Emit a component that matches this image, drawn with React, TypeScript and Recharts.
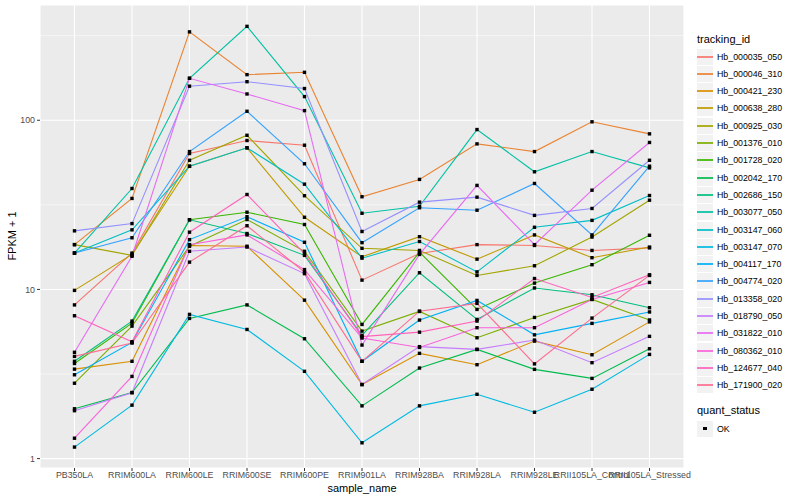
import { CartesianGrid, Line, LineChart, ReferenceLine, XAxis, YAxis } from "recharts";

const sampleNames = [
  "PB350LA",
  "RRIM600LA",
  "RRIM600LE",
  "RRIM600SE",
  "RRIM600PE",
  "RRIM901LA",
  "RRIM928BA",
  "RRIM928LA",
  "RRIM928LE",
  "RRII105LA_Control",
  "RRII105LA_Stressed",
];

const trackingIds = [
  "Hb_000035_050",
  "Hb_000046_310",
  "Hb_000421_230",
  "Hb_000638_280",
  "Hb_000925_030",
  "Hb_001376_010",
  "Hb_001728_020",
  "Hb_002042_170",
  "Hb_002686_150",
  "Hb_003077_050",
  "Hb_003147_060",
  "Hb_003147_070",
  "Hb_004117_170",
  "Hb_004774_020",
  "Hb_013358_020",
  "Hb_018790_050",
  "Hb_031822_010",
  "Hb_080362_010",
  "Hb_124677_040",
  "Hb_171900_020",
];

// ggplot default hue palette, 20 levels
const hueColors = [
  "#F8766D", "#EA8331", "#D89000", "#C09B00", "#A3A500",
  "#7CAE00", "#39B600", "#00BB4E", "#00BF7D", "#00C1A3",
  "#00BFC4", "#00BAE0", "#00B0F6", "#35A2FF", "#9590FF",
  "#C77CFF", "#E76BF3", "#FA62DB", "#FF62BC", "#FF6C91",
];

// FPKM + 1, one value per sample
const hb000035_050 = [8.1, 16.4, 63.6, 75.9, 71.2, 11.35, 16.3, 18.4, 18.2, 17.0, 17.6];
const hb000046_310 = [18.4, 34.5, 333, 186, 192, 35.3, 44.7, 72.5, 65.3, 97.9, 83.1];
const hb000421_230 = [3.38, 3.76, 18.2, 18.0, 8.64, 2.74, 4.19, 3.59, 4.95, 4.11, 6.43];
const hb000638_280 = [9.87, 16.1, 53.5, 68.7, 26.7, 15.6, 20.5, 15.1, 21.0, 15.4, 17.8];
const hb000925_030 = [18.4, 15.9, 58.0, 81.5, 35.8, 17.5, 17.0, 12.1, 13.8, 20.4, 33.7];
const hb001376_010 = [2.79, 6.07, 18.0, 25.9, 16.8, 5.67, 7.41, 5.18, 6.83, 8.73, 6.6];
const hb001728_020 = [3.65, 6.32, 25.8, 28.6, 24.2, 6.21, 16.6, 7.62, 10.9, 14.0, 20.9];
const hb002042_170 = [1.97, 2.46, 6.74, 8.1, 5.11, 2.05, 3.43, 4.42, 3.37, 2.98, 4.46];
const hb002686_150 = [3.76, 6.5, 25.8, 21.4, 15.9, 5.35, 12.55, 6.65, 10.2, 9.3, 7.8];
const hb003077_050 = [16.4, 39.5, 177, 359, 138, 28.2, 31.0, 88.1, 49.6, 65.3, 52.3];
const hb003147_060 = [16.4, 22.5, 53.5, 68.7, 41.9, 15.3, 19.2, 12.7, 23.3, 25.6, 35.9];
const hb003147_070 = [1.17, 2.07, 7.12, 5.8, 3.28, 1.24, 2.05, 2.4, 1.88, 2.57, 4.13];
const hb004117_170 = [3.13, 4.86, 19.7, 26.9, 19.0, 3.76, 6.59, 8.61, 5.39, 6.3, 7.36];
const hb004774_020 = [16.4, 20.2, 65.3, 113, 55.3, 18.9, 30.4, 29.4, 42.3, 21.0, 53.5];
const hb013358_020 = [22.2, 24.5, 159, 169, 154, 22.0, 32.8, 35.1, 27.4, 30.1, 58.0];
const hb018790_050 = [1.92, 2.45, 16.8, 17.8, 12.4, 2.74, 4.59, 4.42, 5.02, 3.69, 5.28];
const hb031822_010 = [4.25, 15.7, 177, 143, 114, 4.69, 16.1, 41.2, 18.4, 38.6, 73.9];
const hb080362_010 = [1.32, 3.06, 18.4, 21.0, 13.1, 5.16, 4.54, 5.94, 5.94, 8.73, 11.0];
const hb124677_040 = [6.99, 4.91, 21.8, 36.4, 16.3, 5.26, 5.59, 6.5, 11.6, 8.97, 12.2];
const hb171900_020 = [4.02, 4.82, 14.5, 23.8, 12.65, 3.76, 7.44, 8.27, 3.63, 6.77, 12.1];

const seriesValues = [
  hb000035_050, hb000046_310, hb000421_230, hb000638_280, hb000925_030,
  hb001376_010, hb001728_020, hb002042_170, hb002686_150, hb003077_050,
  hb003147_060, hb003147_070, hb004117_170, hb004774_020, hb013358_020,
  hb018790_050, hb031822_010, hb080362_010, hb124677_040, hb171900_020,
];

const yTicks = [1, 10, 100];
const yMinorTicks = [3.1623, 31.623, 316.23];

const rows = sampleNames.map((name, i) => {
  const row: Record<string, string | number> = { sample_name: name };
  trackingIds.forEach((id, k) => {
    row[id] = seriesValues[k][i];
  });
  return row;
});

const FONT = '"Liberation Sans", Arial, Helvetica, sans-serif';

const squareDot = (p: any) => {
  const key = `${p.dataKey}-${p.index}`;
  if (p.cx == null || p.cy == null) return <g key={key} />;
  return <rect key={key} x={p.cx - 1.7} y={p.cy - 1.7} width={3.4} height={3.4} fill="#000" />;
};

function LegendPanel() {
  const top = 48;
  const step = 17.3;
  return (
    <>
      <div style={{ position: "absolute", left: 697, top: 33, fontSize: 11, color: "#000" }}>
        tracking_id
      </div>
      {trackingIds.map((id, i) => (
        <div key={id} style={{ position: "absolute", left: 697, top: top + i * step, height: 17, display: "flex", alignItems: "center" }}>
          <div style={{ width: 16, height: 16, background: "#F2F2F2", position: "relative" }}>
            <div style={{ position: "absolute", left: 0, right: 0, top: 7, height: 2, background: hueColors[i], opacity: 0.85 }} />
          </div>
          <span style={{ marginLeft: 4, fontSize: 8.8, color: "#000" }}>{id}</span>
        </div>
      ))}
      <div style={{ position: "absolute", left: 697, top: 404, fontSize: 11, color: "#000" }}>
        quant_status
      </div>
      <div style={{ position: "absolute", left: 697, top: 420, height: 17, display: "flex", alignItems: "center" }}>
        <div style={{ width: 16, height: 16, background: "#F2F2F2", position: "relative" }}>
          <div style={{ position: "absolute", left: 6.2, top: 6.2, width: 3.6, height: 3.6, background: "#000" }} />
        </div>
        <span style={{ marginLeft: 4, fontSize: 8.8, color: "#000" }}>OK</span>
      </div>
    </>
  );
}

export default function App() {
  return (
    <div style={{ position: "absolute", left: 0, top: 0, width: 800, height: 500, background: "#fff", fontFamily: FONT }}>
      <LineChart
        width={800}
        height={500}
        data={rows}
        margin={{ top: 5, right: 116, bottom: 0, left: 0 }}
      >
        <CartesianGrid fill="#EBEBEB" stroke="#FFFFFF" strokeWidth={1.1} />
        {yMinorTicks.map((v) => (
          <ReferenceLine key={v} y={v} stroke="#FFFFFF" strokeWidth={0.55} />
        ))}
        <XAxis
          dataKey="sample_name"
          type="category"
          interval={0}
          padding={{ left: 34.5, right: 34.5 }}
          height={32}
          axisLine={false}
          tickSize={3}
          tickMargin={1}
          tickLine={{ stroke: "#333333" }}
          tick={{ fontSize: 8.8, fill: "#4D4D4D", fontFamily: FONT }}
        />
        <YAxis
          scale="log"
          domain={[0.88, 480]}
          allowDataOverflow
          ticks={yTicks}
          width={40}
          axisLine={false}
          tickSize={3}
          tickMargin={2}
          tickLine={{ stroke: "#333333" }}
          tick={{ fontSize: 8.8, fill: "#4D4D4D", fontFamily: FONT }}
        />
        {trackingIds.map((id, i) => (
          <Line
            key={id}
            dataKey={id}
            type="linear"
            stroke={hueColors[i]}
            strokeWidth={1.1}
            dot={false}
            activeDot={false}
            isAnimationActive={false}
          />
        ))}
        {trackingIds.map((id) => (
          <Line
            key={`${id}-pts`}
            dataKey={id}
            stroke="none"
            dot={squareDot}
            activeDot={false}
            legendType="none"
            isAnimationActive={false}
          />
        ))}
      </LineChart>
      <div
        style={{
          position: "absolute",
          left: 12,
          top: 236,
          transform: "translate(-50%, -50%) rotate(-90deg)",
          fontSize: 11,
          whiteSpace: "nowrap",
        }}
      >
        FPKM + 1
      </div>
      <div
        style={{
          position: "absolute",
          left: 362,
          top: 488,
          transform: "translate(-50%, -50%)",
          fontSize: 11,
          whiteSpace: "nowrap",
        }}
      >
        sample_name
      </div>
      <LegendPanel />
    </div>
  );
}
